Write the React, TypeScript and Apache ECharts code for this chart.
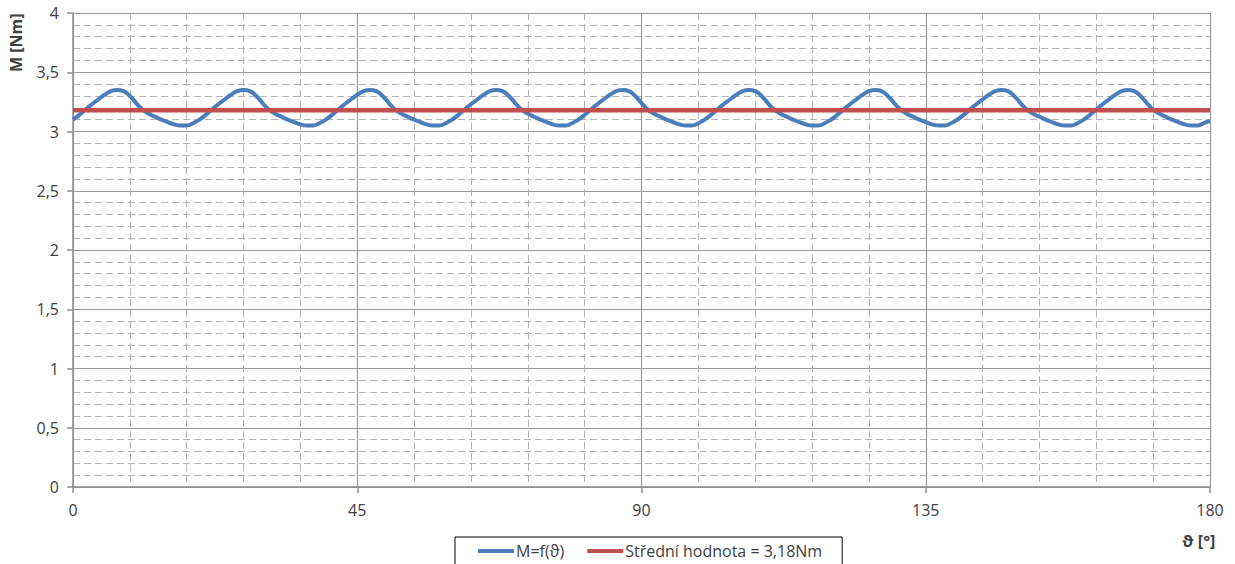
import React, { useEffect, useRef } from "react";
import * as echarts from "echarts";

// angle step: 1°, from 0° to 180°
const angleStart = 0;
const angleStep = 1;

// M = f(ϑ) [Nm], one row per 20° period
const torque: number[] = [
  3.10, 3.14, 3.185, 3.23, 3.27, 3.31, 3.34, 3.35, 3.34, 3.30, 3.24, 3.185, 3.15, 3.125, 3.10, 3.08, 3.06, 3.05, 3.05, 3.07,
  3.10, 3.14, 3.185, 3.23, 3.27, 3.31, 3.34, 3.35, 3.34, 3.30, 3.24, 3.185, 3.15, 3.125, 3.10, 3.08, 3.06, 3.05, 3.05, 3.07,
  3.10, 3.14, 3.185, 3.23, 3.27, 3.31, 3.34, 3.35, 3.34, 3.30, 3.24, 3.185, 3.15, 3.125, 3.10, 3.08, 3.06, 3.05, 3.05, 3.07,
  3.10, 3.14, 3.185, 3.23, 3.27, 3.31, 3.34, 3.35, 3.34, 3.30, 3.24, 3.185, 3.15, 3.125, 3.10, 3.08, 3.06, 3.05, 3.05, 3.07,
  3.10, 3.14, 3.185, 3.23, 3.27, 3.31, 3.34, 3.35, 3.34, 3.30, 3.24, 3.185, 3.15, 3.125, 3.10, 3.08, 3.06, 3.05, 3.05, 3.07,
  3.10, 3.14, 3.185, 3.23, 3.27, 3.31, 3.34, 3.35, 3.34, 3.30, 3.24, 3.185, 3.15, 3.125, 3.10, 3.08, 3.06, 3.05, 3.05, 3.07,
  3.10, 3.14, 3.185, 3.23, 3.27, 3.31, 3.34, 3.35, 3.34, 3.30, 3.24, 3.185, 3.15, 3.125, 3.10, 3.08, 3.06, 3.05, 3.05, 3.07,
  3.10, 3.14, 3.185, 3.23, 3.27, 3.31, 3.34, 3.35, 3.34, 3.30, 3.24, 3.185, 3.15, 3.125, 3.10, 3.08, 3.06, 3.05, 3.05, 3.07,
  3.10, 3.14, 3.185, 3.23, 3.27, 3.31, 3.34, 3.35, 3.34, 3.30, 3.24, 3.185, 3.15, 3.125, 3.10, 3.08, 3.06, 3.05, 3.05, 3.07,
  3.09,
];

const meanValue = 3.18;
const meanRange = [0, 180];

const seriesNames = ["M=f(ϑ)", "Střední hodnota = 3,18Nm"];
const xTicks = [0, 45, 90, 135, 180];
const yTicks = [0, 0.5, 1, 1.5, 2, 2.5, 3, 3.5, 4];

const FONT = "'Open Sans', 'Noto Sans', sans-serif";

export default function App() {
  const ref = useRef<HTMLDivElement>(null);
  useEffect(() => {
    if (!ref.current) return;
    const chart = echarts.init(ref.current, undefined, { renderer: "svg" });
    const curve = torque.map((v, i) => [angleStart + i * angleStep, v]);
    const mean = meanRange.map((x) => [x, meanValue]);
    chart.setOption({
      animation: false,
      backgroundColor: "#fff",
      grid: { left: 73, right: 25, top: 13, bottom: 77, containLabel: false },
      xAxis: {
        type: "value",
        min: xTicks[0],
        max: xTicks[xTicks.length - 1],
        interval: 45,
        axisLine: { show: true, lineStyle: { color: "#8c8c8c", width: 1.5 } },
        axisTick: { show: true, length: 6, lineStyle: { color: "#8c8c8c", width: 1.5 } },
        minorTick: { show: false, splitNumber: 5 },
        axisLabel: { color: "#404040", fontSize: 16, fontFamily: FONT, margin: 15 },
        splitLine: { show: true, lineStyle: { color: "#9a9a9a", width: 1.2 } },
        minorSplitLine: { show: true, lineStyle: { color: "#b4b4b4", type: [7, 4], width: 1 } },
      },
      yAxis: {
        type: "value",
        min: yTicks[0],
        max: yTicks[yTicks.length - 1],
        interval: 0.5,
        axisLine: { show: true, lineStyle: { color: "#8c8c8c", width: 1.5 } },
        axisTick: { show: true, length: 6, lineStyle: { color: "#8c8c8c", width: 1.5 } },
        minorTick: { show: false, splitNumber: 5 },
        axisLabel: {
          color: "#404040",
          fontSize: 16,
          fontFamily: FONT,
          margin: 14,
          formatter: (v: number) => String(v).replace(".", ","),
        },
        splitLine: { show: true, lineStyle: { color: "#9a9a9a", width: 1.2 } },
        minorSplitLine: { show: true, lineStyle: { color: "#b4b4b4", type: [7, 4], width: 1 } },
      },
      legend: {
        left: 455,
        top: 537,
        padding: [6, 20, 8, 23],
        borderColor: "#000",
        borderWidth: 1,
        itemGap: 23,
        itemWidth: 36,
        itemHeight: 4,
        icon: "rect",
        textStyle: { color: "#404040", fontSize: 16, fontFamily: FONT, padding: [0, 0, 0, -3] },
        data: seriesNames,
      },
      graphic: [
        {
          type: "text",
          x: 8,
          y: 72,
          rotation: Math.PI / 2,
          style: { text: "M [Nm]", fill: "#404040", font: `bold 16px ${FONT}` },
        },
        {
          type: "text",
          x: 1182,
          y: 533,
          style: { text: "ϑ [°]", fill: "#404040", font: `bold 16px ${FONT}` },
        },
      ],
      series: [
        {
          name: seriesNames[0],
          type: "line",
          data: curve,
          smooth: true,
          showSymbol: false,
          symbol: "none",
          lineStyle: { color: "#4a7ebb", width: 4 },
          itemStyle: { color: "#4a7ebb" },
          z: 3,
        },
        {
          name: seriesNames[1],
          type: "line",
          data: mean,
          showSymbol: false,
          symbol: "none",
          lineStyle: { color: "#c0504d", width: 4.5 },
          itemStyle: { color: "#c0504d" },
          z: 4,
        },
      ],
    });
    return () => chart.dispose();
  }, []);
  return <div ref={ref} style={{ width: 1235, height: 564, position: "absolute", left: 0, top: 0 }} />;
}
